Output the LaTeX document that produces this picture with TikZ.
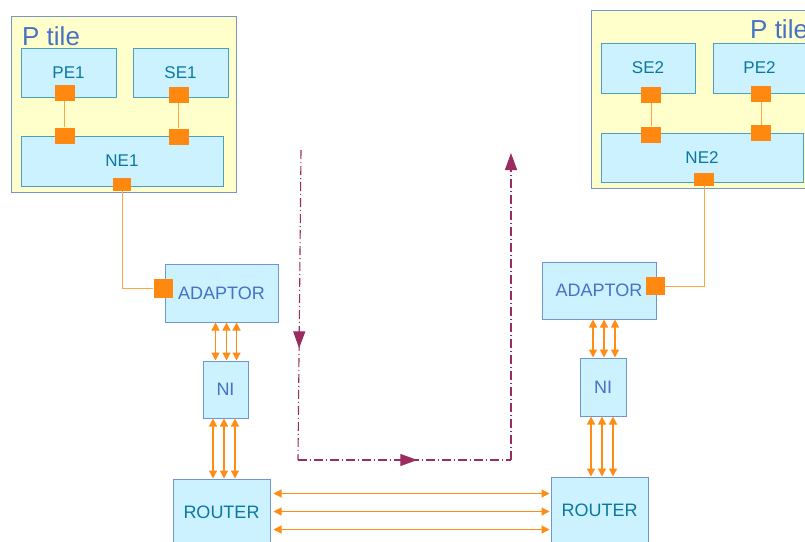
\documentclass[tikz,border=0pt]{standalone}
\usepackage{fontspec}
\setmainfont{Liberation Sans}
\usetikzlibrary{arrows.meta,decorations.markings,calc}
\definecolor{tilefill}{RGB}{255,255,204}
\definecolor{tileborder}{RGB}{120,150,205}
\definecolor{boxfill}{RGB}{204,242,255}
\definecolor{boxborder}{RGB}{75,160,190}
\definecolor{boxborderb}{RGB}{110,150,210}
\definecolor{tealtext}{RGB}{10,120,160}
\definecolor{bluetext}{RGB}{70,114,196}
\definecolor{sqorange}{RGB}{255,136,17}
\definecolor{lineorange}{RGB}{255,165,70}
\definecolor{arrorange}{RGB}{255,140,20}
\definecolor{plum}{RGB}{153,45,95}
\tikzset{
  tile/.style={draw=tileborder, fill=tilefill, line width=1pt, rectangle, inner sep=0pt},
  ebox/.style={draw=boxborder, fill=boxfill, line width=1pt, rectangle, inner sep=0pt,
    text=tealtext, font=\fontsize{17}{20}\selectfont},
  nbox/.style={draw=boxborderb, fill=boxfill, line width=1pt, rectangle, inner sep=0pt,
    text=bluetext, font=\fontsize{18}{21}\selectfont},
  rbox/.style={nbox, text=tealtext},
  sq/.style={fill=sqorange, draw=none, rectangle, inner sep=0pt, minimum width=20pt, minimum height=16pt},
  oline/.style={draw=lineorange, line width=1pt},
  dbl/.style={draw=arrorange, line width=1.2pt,
    {Triangle[length=8pt,width=8pt]}-{Triangle[length=8pt,width=8pt]}},
  dline/.style={draw=plum, line width=1.1pt, dash pattern=on 9pt off 3pt on 1pt off 3pt},
  midarr/.style={postaction={decorate}, decoration={markings,
    mark=at position #1 with {\arrow[plum]{Triangle[length=17pt,width=12pt]}}}},
  tilelabel/.style={text=bluetext, font=\fontsize{26}{30}\selectfont, inner sep=0pt, anchor=base west}
}
\begin{document}
\begin{tikzpicture}[x=1pt,y=-1pt]
\useasboundingbox (0,0) rectangle (805,541);
\begin{scope}
\clip (0,0) rectangle (805,541);
% tiles
\node[tile, minimum width=225pt, minimum height=176pt] (tile1) at (123.5,104) {};
\node[tile, minimum width=239pt, minimum height=178pt] (tile2) at (710.5,99) {};
\node[tilelabel] (lbl1) at (22,45) {P tile};
\node[tilelabel] (lbl2) at (750,38) {P tile};
% left tile boxes
\node[ebox, minimum width=95pt, minimum height=49pt] (pe1) at (68.5,72.5) {PE1};
\node[ebox, minimum width=95pt, minimum height=49pt] (se1) at (180.5,72.5) {SE1};
\node[ebox, minimum width=202pt, minimum height=50pt] (ne1) at (122,161) {NE1};
% right tile boxes
\node[ebox, minimum width=94pt, minimum height=50pt] (se2) at (648,68) {SE2};
\node[ebox, minimum width=93pt, minimum height=50pt] (pe2) at (759.5,68) {PE2};
\node[ebox, minimum width=202pt, minimum height=49pt] (ne2) at (702,157.5) {NE2};
% squares
\node[sq] (pe1s) at (64.5,92.5) {};
\node[sq] (ne1a) at (64.5,135.5) {};
\node[sq] (se1s) at (178.5,95) {};
\node[sq] (ne1b) at (178.5,136.5) {};
\node[sq, minimum width=18pt, minimum height=13pt] (ne1s) at (122,184.5) {};
\node[sq] (se2s) at (651,95) {};
\node[sq] (ne2a) at (651,134.5) {};
\node[sq] (pe2s) at (761,94) {};
\node[sq] (ne2b) at (761,133) {};
\node[sq, minimum width=20pt, minimum height=13pt] (ne2s) at (704,179.5) {};
\draw[oline] (pe1s) -- (ne1a);
\draw[oline] (se1s) -- (ne1b);
\draw[oline] (se2s) -- (ne2a);
\draw[oline] (pe2s) -- (ne2b);
% lower blocks
\node[nbox, minimum width=113pt, minimum height=58pt] (ad1) at (221.5,293) {ADAPTOR};
\node[nbox, minimum width=45pt, minimum height=57pt] (ni1) at (225.5,389.5) {NI};
\node[rbox, minimum width=97pt, minimum height=66pt] (r1) at (221.5,512) {ROUTER};
\node[nbox, minimum width=114pt, minimum height=57pt] (ad2) at (599,290.5) {ADAPTOR};
\node[nbox, minimum width=46pt, minimum height=58pt] (ni2) at (603,387) {NI};
\node[rbox, minimum width=97pt, minimum height=66pt] (r2) at (599.5,510) {ROUTER};
\node[sq, minimum width=19pt, minimum height=19pt] (ad1s) at (163,288) {};
\node[sq, minimum width=19pt, minimum height=18pt] (ad2s) at (655,286) {};
\draw[oline] (ne1s.south) |- (ad1s.west);
\draw[oline] (ne2s.south) |- (ad2s.east);
% adaptor - NI arrows
\foreach \dx in {-10,1,11} {
  \draw[dbl] ([xshift=\dx pt]ni1.north |- ad1.south) -- ([xshift=\dx pt]ni1.north);
}
\foreach \dx in {-12.5,-1.5,9.5} {
  \draw[dbl] ([xshift=\dx pt]ni1.south) -- ([xshift=\dx pt]ni1.south |- r1.north);
}
\foreach \dx in {-10,1,12} {
  \draw[dbl] ([xshift=\dx pt]ni2.north |- ad2.south) -- ([xshift=\dx pt]ni2.north);
}
\foreach \dx in {-12,-1,10} {
  \draw[dbl] ([xshift=\dx pt]ni2.south) -- ([xshift=\dx pt]ni2.south |- r2.north);
}
% router - router arrows
\foreach \dy in {15,33,51} {
  \draw[dbl, shorten <=3pt, shorten >=1pt] ([yshift=-\dy pt]r1.north east) -- ([yshift=-\dy pt]r1.north east -| r2.west);
}
% purple path
\coordinate (d1) at (301,150);
\coordinate (d2) at (298,460);
\coordinate (d3) at (511,460);
\coordinate (d4) at (511,153);
\draw[dline, midarr=0.64] (d1) -- (d2);
\draw[dline, midarr=0.56] (d2) -- (d3);
\draw[dline, -{Triangle[length=17pt,width=12pt]}] (d3) -- (d4);
\end{scope}
\end{tikzpicture}
\end{document}
